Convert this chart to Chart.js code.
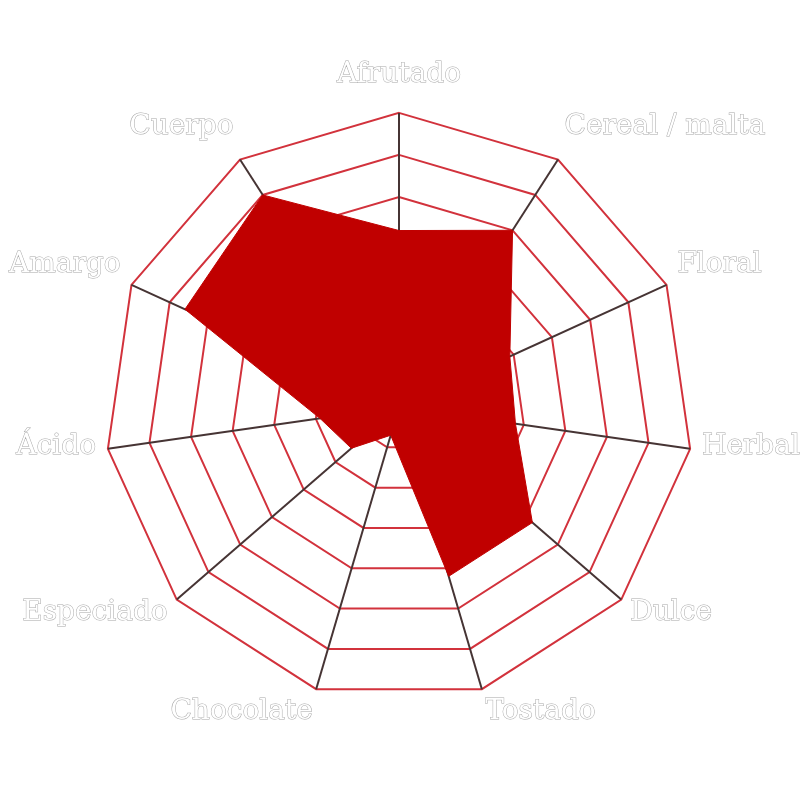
<!DOCTYPE html>
<html>
<head>
<meta charset="utf-8">
<script src="https://cdn.jsdelivr.net/npm/chart.js@4/dist/chart.umd.min.js"></script>
<style>
  html, body { margin: 0; padding: 0; background: #fff; }
  #wrap { width: 800px; height: 800px; }
</style>
</head>
<body>
<div id="wrap"><canvas id="radar"></canvas></div>
<script>
var categories = ["Afrutado", "Cereal / malta", "Floral", "Herbal", "Dulce", "Tostado",
                  "Chocolate", "Especiado", "Ácido", "Amargo", "Cuerpo"];
var profile = [4.2, 5.0, 2.9, 2.8, 4.2, 4.2, 0.7, 1.5, 1.9, 5.6, 6.0];
var scaleMax = 7;

var labelFont = {family: "'DejaVu Serif', 'Liberation Serif', serif", size: 28};
var labelGap = 12;

// point labels: white text with a thin grey outline, placed just outside each spoke
var outlinedLabels = {
    id: 'outlinedLabels',
    afterDraw: function(chart) {
        var scale = chart.scales.r;
        var ctx = chart.ctx;
        ctx.save();
        ctx.font = labelFont.size + "px " + labelFont.family;
        ctx.textBaseline = 'middle';
        ctx.lineWidth = 1;
        ctx.strokeStyle = '#a8a8a8';
        ctx.fillStyle = '#ffffff';
        categories.forEach(function(label, i) {
            var p = scale.getPointPosition(i, scale.drawingArea + labelGap);
            var c = Math.cos(p.angle), s = Math.sin(p.angle);
            ctx.textAlign = c > 0.01 ? 'left' : (c < -0.01 ? 'right' : 'center');
            var y = p.y + s * 19 - 7;
            ctx.strokeText(label, p.x, y);
            ctx.fillText(label, p.x, y);
        });
        ctx.restore();
    }
};

new Chart(document.getElementById('radar'), {
    type: 'radar',
    data: {
        labels: categories,
        datasets: [{
            data: profile,
            backgroundColor: '#c00000',
            borderColor: '#c00000',
            borderWidth: 1,
            pointRadius: 0,
            fill: true,
        }],
    },
    options: {
        responsive: true,
        maintainAspectRatio: false,
        animation: false,
        layout: {padding: {left: 10, right: 0, top: 0, bottom: 0}},
        plugins: {
            legend: {display: false},
            tooltip: {enabled: false},
        },
        scales: {
            r: {
                min: 0,
                max: scaleMax,
                ticks: {stepSize: 1, display: false},
                grid: {color: '#d2323c', lineWidth: 2},
                angleLines: {color: '#463434', lineWidth: 2},
                pointLabels: {
                    color: 'rgba(0,0,0,0)',
                    font: labelFont,
                    padding: 6,
                },
            },
        },
    },
    plugins: [outlinedLabels],
});
</script>
</body>
</html>
